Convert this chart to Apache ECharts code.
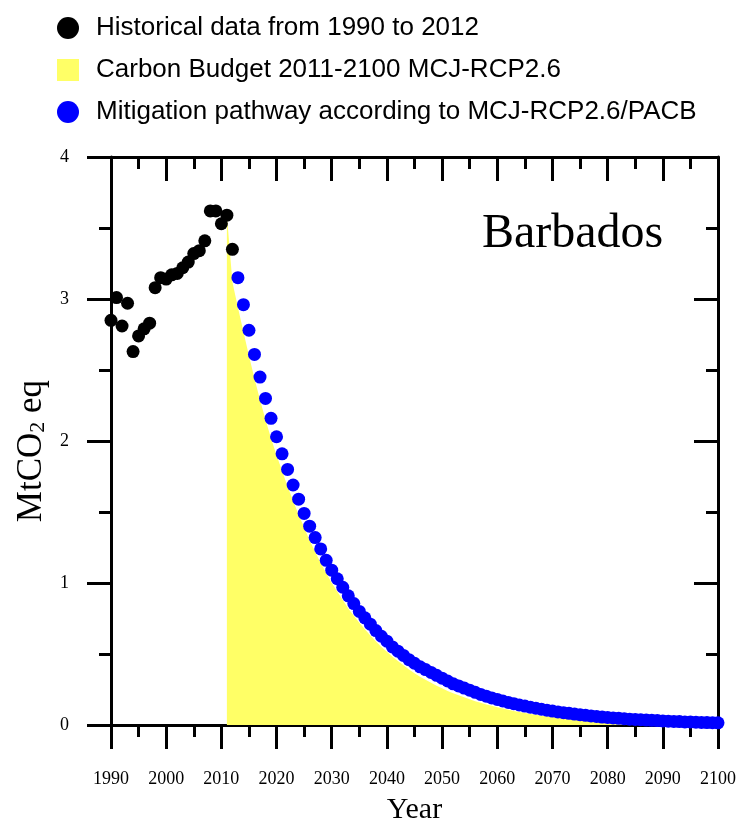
<!DOCTYPE html>
<html><head><meta charset="utf-8">
<script src="https://cdn.jsdelivr.net/npm/echarts@6/dist/echarts.min.js"></script>
<style>html,body{margin:0;padding:0;background:#fff}#c{width:739px;height:822px}</style>
</head><body><div id="c"></div>
<script>
// ---- data ----
const histYears = [1990,1991,1992,1993,1994,1995,1996,1997,1998,1999,2000,2001,2002,2003,2004,2005,2006,2007,2008,2009,2010,2011,2012];
const histValues = [2.85,3.01,2.81,2.97,2.63,2.74,2.79,2.83,3.08,3.15,3.14,3.17,3.18,3.22,3.26,3.32,3.34,3.41,3.62,3.62,3.53,3.59,3.35];

const pathYears = [2013,2014,2015,2016,2017,2018,2019,2020,2021,2022,2023,2024,2025,2026,2027,2028,2029,2030,
  2031,2032,2033,2034,2035,2036,2037,2038,2039,2040,2041,2042,2043,2044,2045,2046,2047,2048,2049,2050,
  2051,2052,2053,2054,2055,2056,2057,2058,2059,2060,2061,2062,2063,2064,2065,2066,2067,2068,2069,2070,
  2071,2072,2073,2074,2075,2076,2077,2078,2079,2080,2081,2082,2083,2084,2085,2086,2087,2088,2089,2090,
  2091,2092,2093,2094,2095,2096,2097,2098,2099,2100];
const pathValues = [3.15,2.96,2.78,2.61,2.45,2.30,2.16,2.03,1.91,1.80,1.69,1.59,1.49,1.40,1.32,1.24,1.16,1.09,
  1.03,0.97,0.91,0.855,0.80,0.755,0.71,0.665,0.625,0.59,0.55,0.52,0.49,0.46,0.435,0.41,0.39,0.37,0.35,0.33,
  0.31,0.29,0.275,0.26,0.245,0.23,0.215,0.203,0.191,0.18,0.169,0.159,0.15,0.141,0.133,0.125,0.118,0.111,0.104,0.098,
  0.092,0.087,0.082,0.077,0.072,0.068,0.064,0.060,0.056,0.053,0.050,0.047,0.044,0.041,0.039,0.037,0.035,0.033,0.031,0.029,
  0.027,0.025,0.024,0.022,0.021,0.020,0.018,0.017,0.016,0.015];

const budgetYears = [2011,2012].concat(pathYears);
const budgetValues = [3.59,3.12,2.94,2.77,2.60,2.44,2.29,2.15,2.02,1.90,1.79,1.68,1.58,1.48,1.39,1.30,1.22,1.14,1.07,1.00,
  0.94,0.88,0.82,0.77,0.72,0.675,0.63,0.59,0.55,0.515,0.48,0.45,0.42,0.39,0.365,0.34,0.318,0.297,0.277,0.258,
  0.24,0.224,0.209,0.195,0.181,0.168,0.156,0.145,0.135,0.125,0.116,0.107,0.099,0.092,0.085,0.078,0.072,0.066,0.061,0.056,
  0.051,0.046,0.042,0.038,0.034,0.031,0.028,0.025,0.022,0.019,0.017,0.015,0.013,0.012,0.011,0.010,0.009,0.008,0.007,0.006,
  0.006,0.005,0.005,0.004,0.004,0.003,0.003,0.003,0.002,0.002];

const legendNames = ['Historical data from 1990 to 2012','Carbon Budget 2011-2100 MCJ-RCP2.6','Mitigation pathway according to MCJ-RCP2.6/PACB'];
const countryName = 'Barbados';
const xName = 'Year';
const yMin = 0, yMax = 4, yInterval = 1;
const xMin = 1990, xMax = 2100, xInterval = 10;

// ---- chart ----
const serif = 'Liberation Serif';
const sans = 'Liberation Sans';
const axisLine = {show:true, onZero:false, lineStyle:{color:'#000', width:3}};
const tickOut = {show:true, inside:false, length:24, lineStyle:{color:'#000', width:3}};
const tickIn = {show:true, inside:true, length:24, lineStyle:{color:'#000', width:3}};
const minor = {show:true, splitNumber:2, length:12, lineStyle:{color:'#000', width:3}};

const chart = echarts.init(document.getElementById('c'), null, {renderer:'canvas'});
chart.setOption({
  animation:false,
  backgroundColor:'#fff',
  title:{text:countryName, left:482, top:210, padding:0,
    textStyle:{fontFamily:serif, fontSize:48, fontWeight:'normal', color:'#000'}},
  legend:{
    orient:'vertical', left:52, top:10, itemGap:16, itemWidth:22, itemHeight:22,
    textStyle:{fontFamily:sans, fontSize:26, lineHeight:26, color:'#000', padding:[0,0,0,12]},
    data:[
      {name:legendNames[0], icon:'circle', itemStyle:{color:'#000', opacity:1}},
      {name:legendNames[1], icon:'rect', itemStyle:{color:'#ffff66', opacity:1}},
      {name:legendNames[2], icon:'circle', itemStyle:{color:'#0000ff', opacity:1}}
    ],
    selectedMode:false
  },
  grid:{left:111, right:21, top:157, bottom:97, containLabel:false, outerBoundsMode:'none'},
  xAxis:[
    {type:'value', position:'bottom', min:xMin, max:xMax, interval:xInterval,
     name:xName, nameLocation:'middle', nameGap:70,
     nameTextStyle:{fontFamily:serif, fontSize:30, color:'#000'},
     axisLine:axisLine, axisTick:tickOut, minorTick:minor, splitLine:{show:false},
     axisLabel:{margin:45, fontFamily:serif, fontSize:18, color:'#000', formatter:v=>String(v)}},
    {type:'value', position:'top', min:xMin, max:xMax, interval:xInterval,
     axisLine:axisLine, axisTick:tickIn, minorTick:minor, splitLine:{show:false},
     axisLabel:{show:false}}
  ],
  yAxis:[
    {type:'value', position:'left', min:yMin, max:yMax, interval:yInterval,
     name:'{a|MtCO}{b|2}{a| eq}', nameLocation:'middle', nameGap:62, nameRotate:90,
     nameTextStyle:{fontFamily:serif, fontSize:35, color:'#000', padding:[0,20,0,0],
       rich:{a:{fontFamily:serif, fontSize:35, color:'#000'},
             b:{fontFamily:serif, fontSize:22, color:'#000', verticalAlign:'bottom'}}},
     axisLine:axisLine, axisTick:tickOut, minorTick:minor, splitLine:{show:false},
     axisLabel:{margin:42, fontFamily:serif, fontSize:18, color:'#000'}},
    {type:'value', position:'right', min:yMin, max:yMax, interval:yInterval,
     axisLine:axisLine, axisTick:tickIn, minorTick:minor, splitLine:{show:false},
     axisLabel:{show:false}}
  ],
  series:[
    {name:legendNames[1], type:'line', xAxisIndex:0, yAxisIndex:0, z:1,
     data:budgetYears.map((y,i)=>[y, budgetValues[i]]),
     symbol:'none', showSymbol:false, lineStyle:{width:0, color:'#ffff66'},
     itemStyle:{color:'#ffff66'}, areaStyle:{color:'#ffff66', opacity:1}},
    {name:legendNames[0], type:'scatter', xAxisIndex:0, yAxisIndex:0, z:3,
     data:histYears.map((y,i)=>[y, histValues[i]]),
     symbol:'circle', symbolSize:13, itemStyle:{color:'#000', opacity:1}, clip:false},
    {name:legendNames[2], type:'scatter', xAxisIndex:0, yAxisIndex:0, z:3,
     data:pathYears.map((y,i)=>[y, pathValues[i]]),
     symbol:'circle', symbolSize:13, itemStyle:{color:'#0000ff', opacity:1}, clip:false}
  ]
});
</script>
</body></html>
